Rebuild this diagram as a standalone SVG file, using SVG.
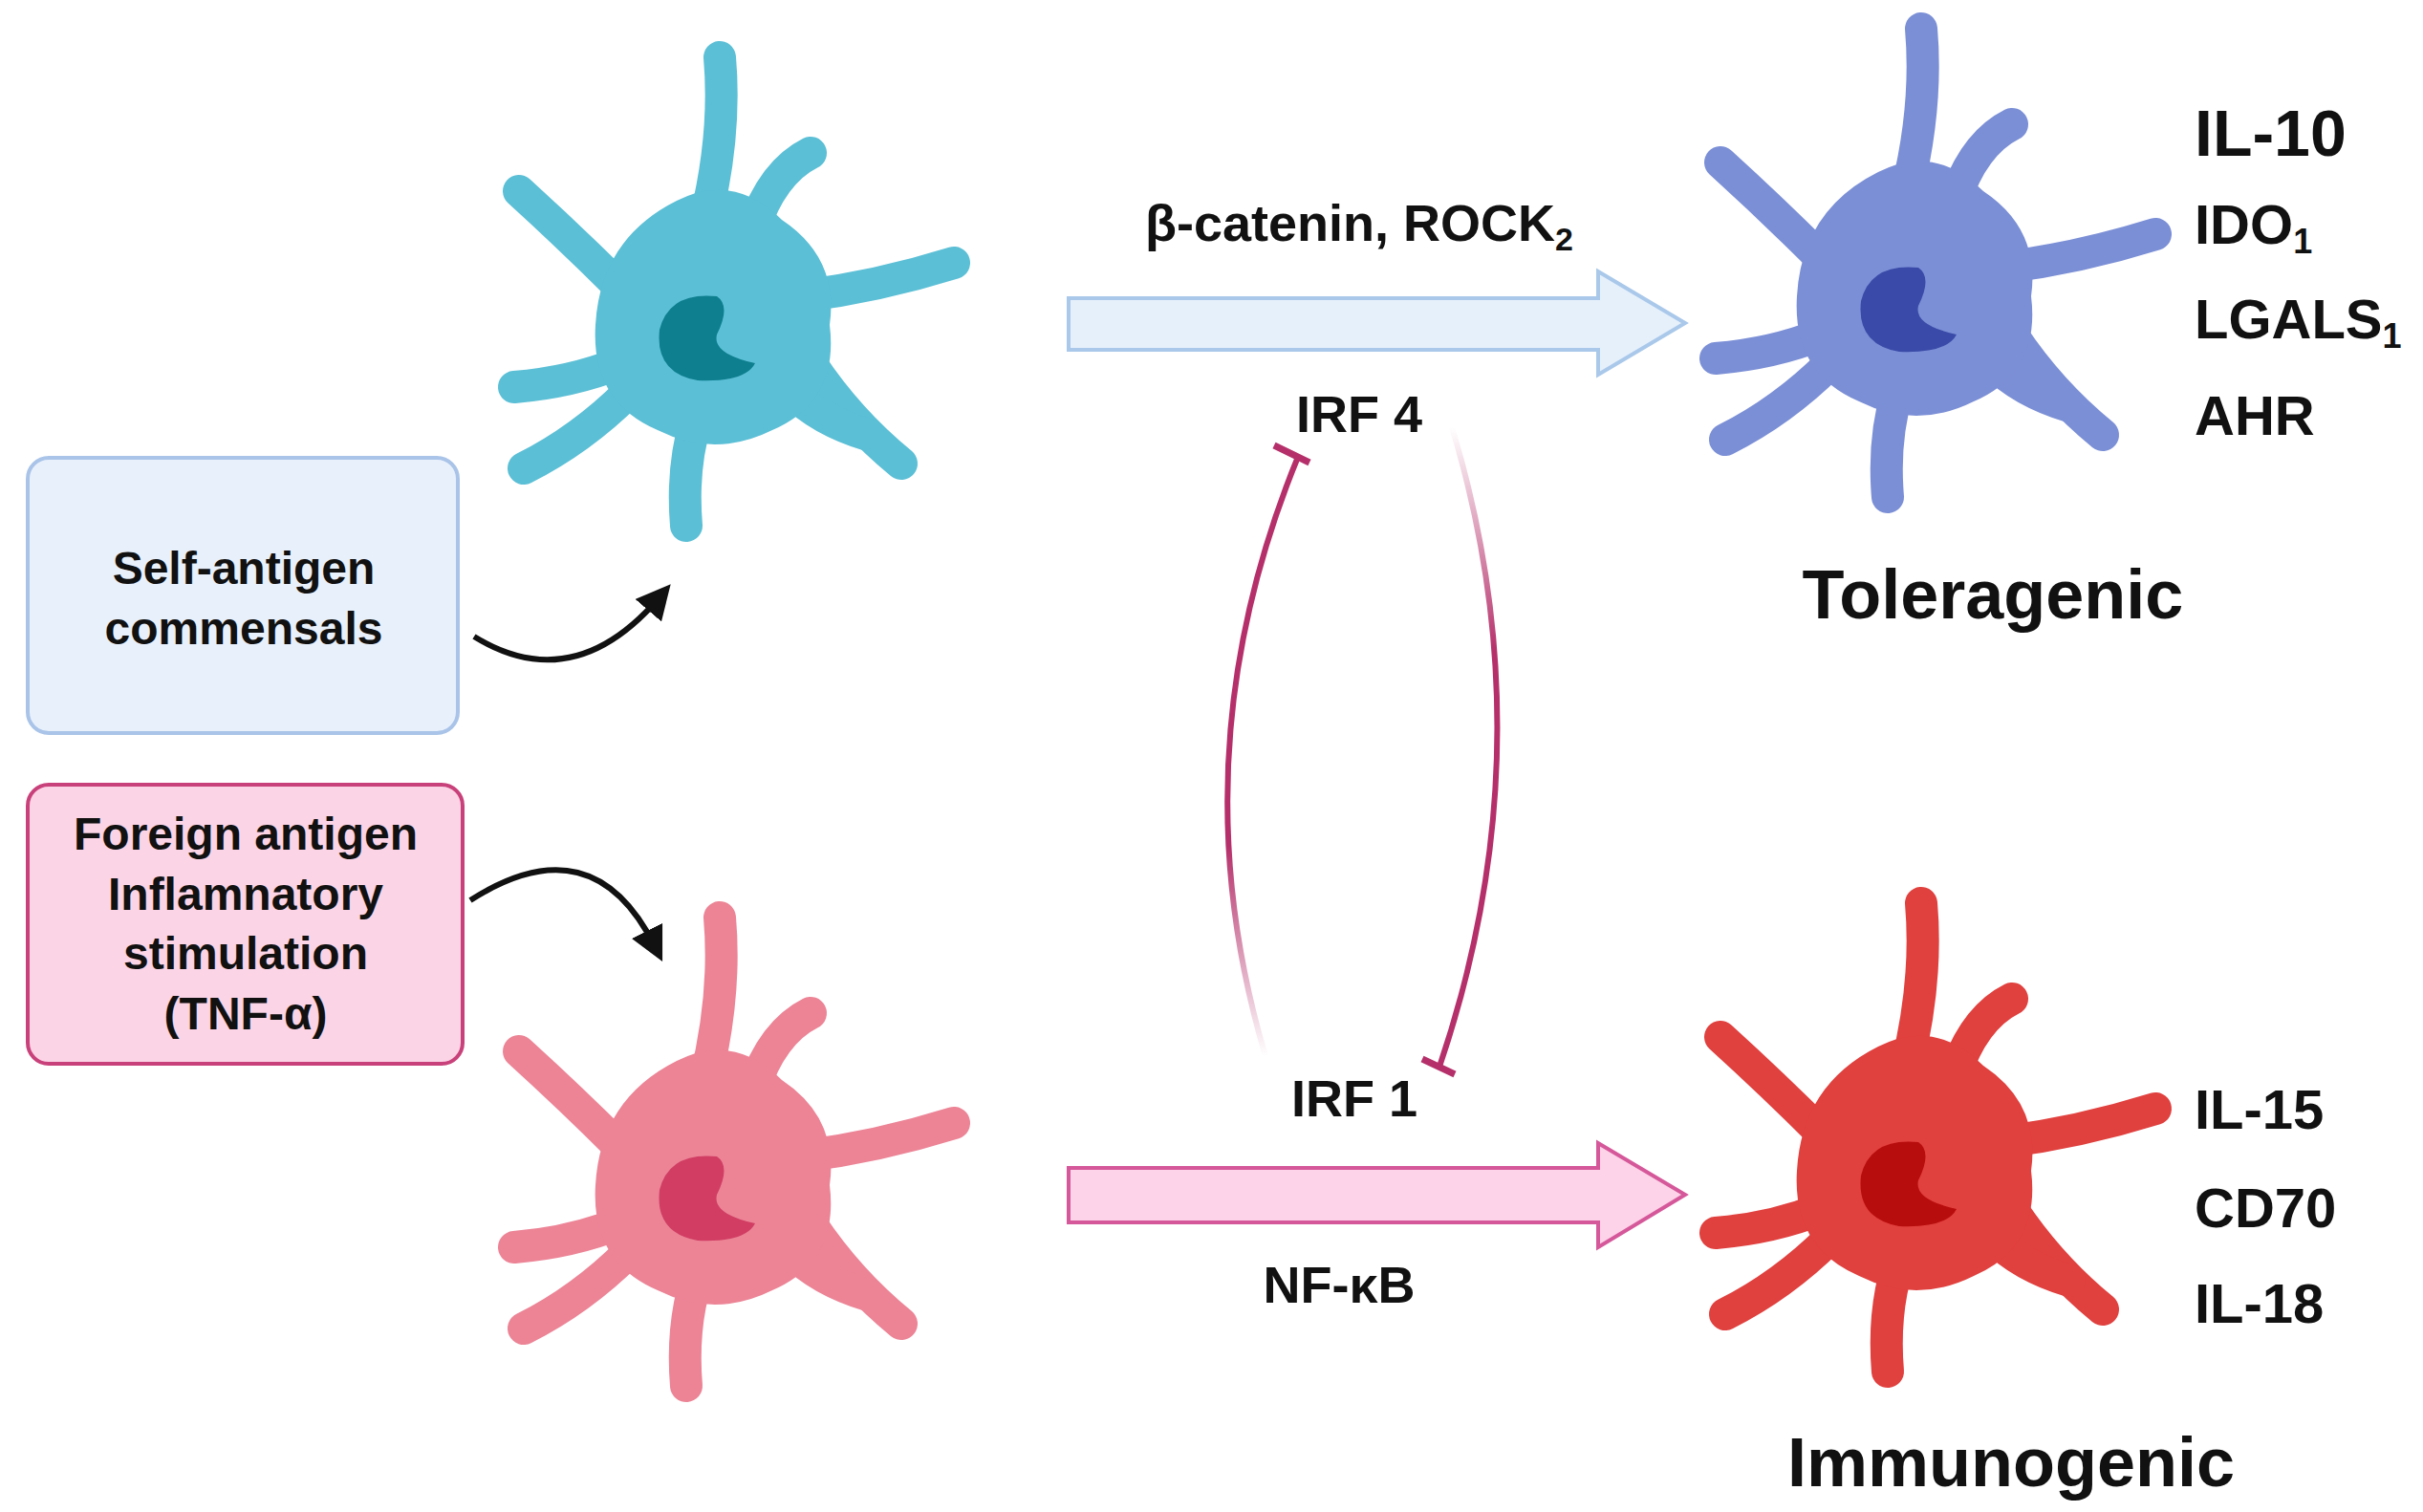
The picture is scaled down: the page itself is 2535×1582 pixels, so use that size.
<svg xmlns="http://www.w3.org/2000/svg" width="2535" height="1582" viewBox="0 0 2535 1582">
<style>
text{font-family:"Liberation Sans",Arial,sans-serif;font-weight:bold;fill:#111}
.lbl{font-size:54px}
.mk{font-size:58px}
.big{font-size:72px}
.box{font-size:48px;text-anchor:middle}
</style>
<defs>
<g id="cell">
<g fill="none" stroke="currentColor" stroke-width="34" stroke-linecap="round">
<path d="M-10 -100 Q 12 -190 5 -270"/>
<path d="M40 -90 Q 60 -150 100 -170"/>
<path d="M90 -20 Q 170 -30 250 -55"/>
<path d="M100 50 Q 140 110 195 155"/>
<path d="M80 80 Q 110 110 160 125"/>
<path d="M-20 110 Q -35 160 -30 220"/>
<path d="M-90 80 Q -140 130 -200 160"/>
<path d="M-100 -30 Q -150 -80 -205 -130"/>
<path d="M-100 50 Q -150 70 -210 75"/>
</g>
<path fill="currentColor" d="M-40 -120 Q 20 -150 70 -100 Q 130 -60 120 10 Q 130 90 60 120 Q 0 150 -60 120 Q -130 90 -125 10 Q -120 -80 -40 -120Z"/>
</g>
<path id="nuc" d="M-40 -5 Q -30 -45 20 -40 Q 35 -30 20 0 Q 15 20 60 30 Q 50 50 0 48 Q -45 40 -40 -5Z"/>
<marker id="ah" viewBox="0 0 10 10" refX="5" refY="5" markerWidth="6" markerHeight="6" orient="auto"><path d="M0 0 L10 5 L0 10Z" fill="#111"/></marker>
<linearGradient id="fadeL" x1="0" y1="1" x2="0" y2="0"><stop offset="0" stop-color="#b5306a" stop-opacity="0"/><stop offset="0.35" stop-color="#b5306a"/></linearGradient>
<linearGradient id="fadeR" x1="0" y1="0" x2="0" y2="1"><stop offset="0" stop-color="#b5306a" stop-opacity="0"/><stop offset="0.35" stop-color="#b5306a"/></linearGradient>
</defs>
<rect width="2535" height="1582" fill="#fff"/>
<g id="cell-blue"><use href="#cell" x="748" y="330" color="#5bbfd6"/><use href="#nuc" x="730" y="350" fill="#0e7f8e"/></g>
<g id="cell-violet"><use href="#cell" x="2005" y="300" color="#7b8fd6"/><use href="#nuc" x="1987" y="320" fill="#3a4aa8"/></g>
<g id="cell-pink"><use href="#cell" x="748" y="1230" color="#ec8496"/><use href="#nuc" x="730" y="1250" fill="#d13d63"/></g>
<g id="cell-red"><use href="#cell" x="2005" y="1215" color="#e0403e"/><use href="#nuc" x="1987" y="1235" fill="#b80d0d"/></g>
<g id="box-self"><rect x="29" y="479" width="450" height="288" rx="22" fill="#e8f0fb" stroke="#a9c4e8" stroke-width="4"/>
<text class="box" x="255" y="611">Self-antigen</text><text class="box" x="255" y="674">commensals</text></g>
<g id="box-foreign"><rect x="29" y="821" width="455" height="292" rx="22" fill="#fbd4e6" stroke="#c9417a" stroke-width="4"/>
<text class="box" x="257" y="889">Foreign antigen</text><text class="box" x="257" y="952">Inflamnatory</text><text class="box" x="257" y="1014">stimulation</text><text class="box" x="257" y="1077">(TNF-α)</text></g>
<g id="connectors">
<path d="M1118 312 H1672 V284 L1763 338 L1672 392 V366 H1118Z" fill="#e6f0fb" stroke="#a9c8ea" stroke-width="4"/>
<path d="M1118 1222 H1672 V1196 L1763 1250 L1672 1305 V1279 H1118Z" fill="#fcd3e8" stroke="#d5589a" stroke-width="4"/>
<path d="M496 666 Q 600 730 690 625" fill="none" stroke="#111" stroke-width="6" marker-end="url(#ah)"/>
<path d="M492 942 Q 620 860 685 990" fill="none" stroke="#111" stroke-width="6" marker-end="url(#ah)"/>
<path d="M1324 1105 Q 1230 790 1358 478" fill="none" stroke="url(#fadeL)" stroke-width="6"/>
<line x1="1333" y1="466" x2="1370" y2="484" stroke="#b5306a" stroke-width="7"/>
<path d="M1519 447 Q 1620 780 1506 1116" fill="none" stroke="url(#fadeR)" stroke-width="6"/>
<line x1="1488" y1="1108" x2="1522" y2="1124" stroke="#b5306a" stroke-width="7"/>
</g>
<text class="lbl" x="1422" y="252" text-anchor="middle">β-catenin, ROCK<tspan font-size="34" dy="10">2</tspan></text>
<text class="lbl" x="1422" y="452" text-anchor="middle">IRF 4</text>
<text class="lbl" x="1417" y="1168" text-anchor="middle">IRF 1</text>
<text class="lbl" x="1401" y="1363" text-anchor="middle">NF-κB</text>
<text x="2296" y="163" font-size="68">IL-10</text>
<text class="mk" x="2296" y="255">IDO<tspan font-size="36" dy="10">1</tspan></text>
<text class="mk" x="2296" y="354">LGALS<tspan font-size="36" dy="10">1</tspan></text>
<text class="mk" x="2296" y="455">AHR</text>
<text class="big" x="2085" y="647" text-anchor="middle">Toleragenic</text>
<text class="mk" x="2296" y="1181">IL-15</text>
<text class="mk" x="2296" y="1284">CD70</text>
<text class="mk" x="2296" y="1384">IL-18</text>
<text class="big" x="2104" y="1555" text-anchor="middle">Immunogenic</text>
</svg>
